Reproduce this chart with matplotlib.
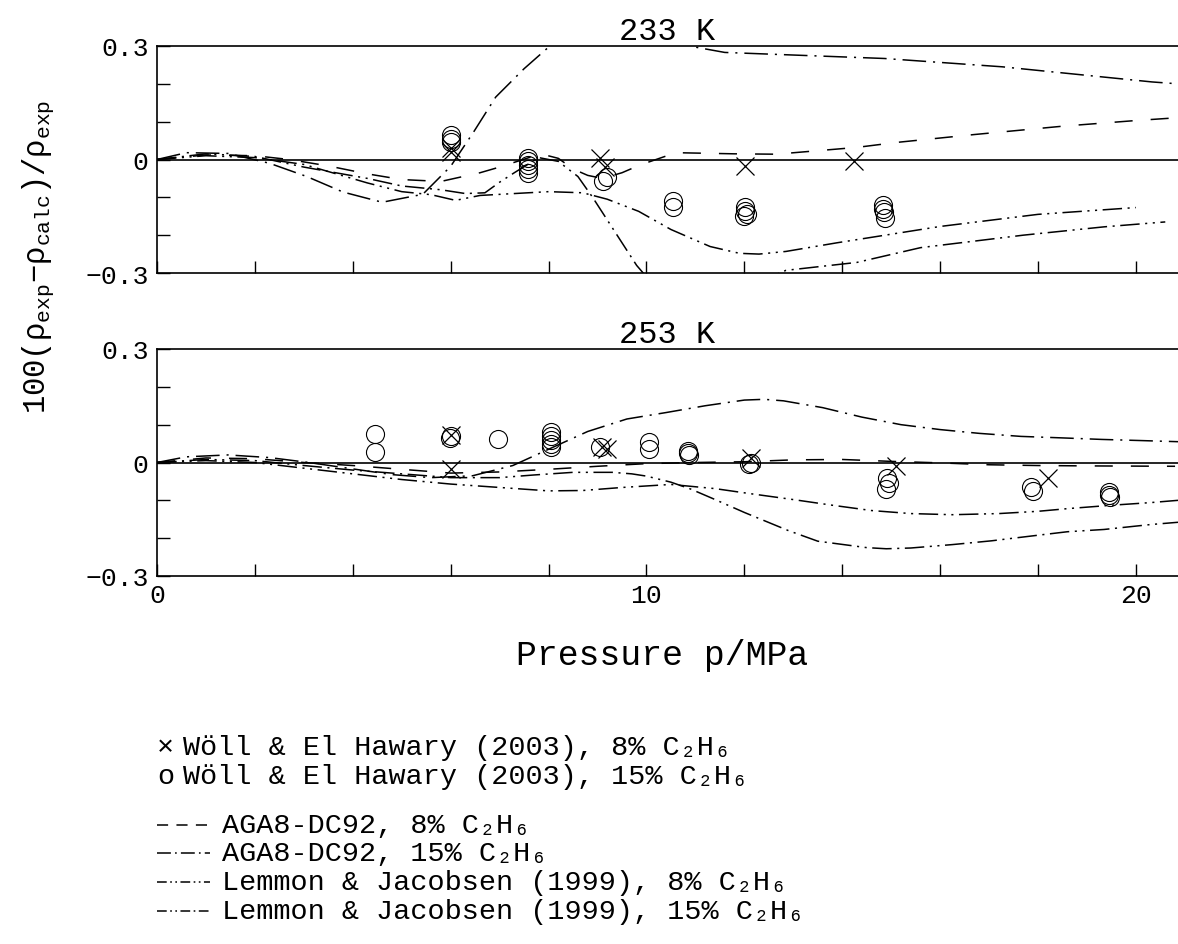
import numpy as np
import matplotlib
matplotlib.use("Agg")
import matplotlib.pyplot as plt
from matplotlib.lines import Line2D

plt.rcParams['font.family'] = ['Liberation Mono', 'DejaVu Sans']
plt.rcParams['mathtext.fontset'] = 'custom'
plt.rcParams['mathtext.rm'] = 'Liberation Mono'
plt.rcParams['mathtext.it'] = 'Liberation Mono'
plt.rcParams['mathtext.bf'] = 'Liberation Mono:bold'
plt.rcParams['lines.scale_dashes'] = False

# ---------------- 233 K ----------------
p233_x8 = [6.0, 6.0, 9.05, 9.15, 12.02, 14.25]
d233_x8 = [0.03, 0.02, 0.005, -0.02, -0.018, -0.003]
p233_o15 = [6.0, 6.0, 6.0, 7.57, 7.57, 7.57, 7.57, 7.57, 9.12, 9.2,
            10.55, 10.55, 12.02, 12.02, 12.05, 12.0, 14.84, 14.84, 14.86, 14.88]
d233_o15 = [0.065, 0.055, 0.045, 0.005, -0.005, -0.015, -0.025, -0.035, -0.058, -0.045,
            -0.11, -0.125, -0.125, -0.135, -0.145, -0.15, -0.12, -0.13, -0.14, -0.155]

p233_aga8 = [0, 1, 2, 2.7, 3.5, 4.3, 5.0, 5.8, 6.6, 7.0, 7.6, 7.9, 8.2, 8.5, 8.8, 9.1,
             9.5, 9.86, 10.6, 11.8, 12.65, 14.3, 15.1, 16.7, 18.5, 20.0, 20.8]
d233_aga8 = [0, 0.012, 0.01, 0.0, -0.017, -0.038, -0.053, -0.058, -0.035, -0.02, 0.005,
             0.013, 0.003, -0.025, -0.042, -0.05, -0.035, -0.015, 0.018, 0.015, 0.014,
             0.032, 0.045, 0.066, 0.088, 0.103, 0.11]
p233_aga15 = [0, 0.6, 1.45, 2.3, 3.06, 3.8, 4.6, 5.43, 6.0, 6.48, 6.92, 7.5, 8.0, 8.5,
              9.5, 10.3, 11.0, 11.6, 14.86, 17.27, 20.33, 20.86]
d233_aga15 = [0, 0.018, 0.016, -0.01, -0.045, -0.086, -0.113, -0.092, -0.018, 0.075,
              0.165, 0.24, 0.297, 0.33, 0.35, 0.33, 0.297, 0.283, 0.267, 0.245, 0.205, 0.2]
p233_lj8 = [0, 1, 2, 3, 4.3, 5.0, 5.6, 6.1, 6.6, 7.3, 8.0, 8.7, 9.2, 9.84, 10.5, 11.3,
            11.9, 12.3, 12.85, 13.9, 16.0, 18.0, 20.0]
d233_lj8 = [0, 0.01, 0.005, -0.013, -0.062, -0.085, -0.093, -0.108, -0.095, -0.09, -0.085,
            -0.088, -0.105, -0.137, -0.185, -0.23, -0.248, -0.25, -0.243, -0.22, -0.177,
            -0.145, -0.127]
p233_lj15 = [0, 1, 2, 3, 4.3, 5.0, 5.8, 6.3, 6.7, 7.0, 7.3, 7.8, 8.2, 8.6, 8.9, 9.2, 9.4,
             9.8, 10.2, 11.0, 12.0, 12.85, 14.3, 15.6, 17.7, 19.35, 20.6]
d233_lj15 = [0, 0.015, 0.008, -0.02, -0.05, -0.07, -0.08, -0.09, -0.088, -0.06, -0.035,
             0.005, -0.005, -0.045, -0.1, -0.16, -0.2, -0.28, -0.34, -0.38, -0.34, -0.293,
             -0.272, -0.233, -0.2, -0.178, -0.165]

# ---------------- 253 K ----------------
p253_x8 = [6.0, 6.0, 9.1, 9.2, 12.14, 15.1, 18.2]
d253_x8 = [0.074, -0.018, 0.04, 0.035, 0.012, -0.01, -0.04]
p253_o15 = [4.45, 4.45, 5.98, 6.0, 6.96, 8.06, 8.06, 8.06, 8.06, 8.06, 9.05, 10.05, 10.05,
            10.84, 10.84, 10.86, 12.14, 12.1, 14.92, 14.95, 14.9, 17.85, 17.9,
            19.45, 19.45, 19.47]
d253_o15 = [0.075, 0.028, 0.066, 0.07, 0.063, 0.08, 0.07, 0.06, 0.05, 0.04, 0.04, 0.055,
            0.035, 0.03, 0.025, 0.02, 0.0, -0.005, -0.04, -0.055, -0.07, -0.065, -0.075,
            -0.078, -0.085, -0.09]

p253_aga8 = [0, 1, 2, 3, 4, 5, 6, 7, 8, 9, 10, 11, 12, 13, 14, 15, 16, 17, 18, 19, 20.8]
d253_aga8 = [0, 0.012, 0.01, 0.0, -0.008, -0.018, -0.028, -0.025, -0.018, -0.01, -0.003,
             0.0, 0.002, 0.007, 0.008, 0.003, -0.001, -0.006, -0.008, -0.009, -0.01]
p253_aga15 = [0, 0.6, 1.45, 2.3, 3.1, 3.9, 4.8, 5.6, 6.45, 7.27, 8.0, 8.8, 9.6, 10.4,
              11.2, 12.0, 12.4, 12.8, 13.6, 14.4, 15.2, 16.0, 16.8, 17.65, 18.5, 19.3,
              20.1, 20.86]
d253_aga15 = [0, 0.015, 0.02, 0.013, 0.0, -0.015, -0.032, -0.04, -0.035, -0.008, 0.035,
              0.082, 0.115, 0.132, 0.15, 0.165, 0.167, 0.163, 0.145, 0.12, 0.1, 0.087,
              0.077, 0.069, 0.065, 0.061, 0.058, 0.055]
p253_lj8 = [0, 1, 2, 3, 4, 5, 6, 7, 8, 8.7, 9.5, 10.0, 10.5, 11.4, 12.1, 13.0, 13.8, 14.6,
            15.4, 16.25, 17.2, 18.0, 18.6, 19.5, 20.3, 20.86]
d253_lj8 = [0, 0.005, 0.0, -0.015, -0.03, -0.045, -0.057, -0.066, -0.075, -0.074, -0.066,
            -0.062, -0.058, -0.069, -0.082, -0.098, -0.113, -0.127, -0.135, -0.138,
            -0.135, -0.129, -0.122, -0.113, -0.106, -0.1]
p253_lj15 = [0, 1, 2, 3, 4, 5, 6, 7, 7.7, 8.5, 9.3, 9.7, 10.0, 10.5, 10.9, 11.35, 12.0,
             12.9, 13.5, 14.5, 14.9, 15.4, 16.25, 17.05, 17.95, 18.6, 19.35, 20.3, 20.86]
d253_lj15 = [0, 0.008, 0.005, -0.008, -0.02, -0.03, -0.04, -0.04, -0.033, -0.026, -0.026,
             -0.03, -0.036, -0.052, -0.07, -0.095, -0.132, -0.18, -0.208, -0.225, -0.228,
             -0.226, -0.217, -0.207, -0.193, -0.183, -0.177, -0.164, -0.158]

x_ticks = [0, 2, 4, 6, 8, 10, 12, 14, 16, 18, 20]
x_ticklabels = ['0', '', '', '', '', '10', '', '', '', '', '20']
y_ticks = [-0.3, -0.2, -0.1, 0.0, 0.1, 0.2, 0.3]
y_ticklabels = ['\u22120.3', '', '', '0', '', '', '0.3']

# line styles (dash lengths in points) for the curves and for the key
LW = 1.1
ST_AGA8 = (0, (13, 13))
ST_AGA15 = (0, (17, 5, 1.5, 5))
ST_LJ8 = (0, (14, 4, 1.5, 4, 1.5, 4))
ST_LJ15 = (0, (14, 4, 1.5, 4, 14, 4, 1.5, 4, 1.5, 4))
KEY_AGA8 = (0, (8, 6))
KEY_AGA15 = (0, (10, 3, 1.2, 3))
KEY_LJ8 = (0, (7, 2.5, 1.2, 2.5, 1.2, 2.5))
KEY_LJ15 = (0, (7, 2.5, 1.2, 2.5, 1.2, 2.5, 7, 2.5, 1.2, 2.5))

fig = plt.figure(figsize=(11.78, 9.45), dpi=100)
W, H = 1178.0, 945.0
ax1 = fig.add_axes([157 / W, 1 - 274 / H, 1021 / W, 227 / H])
ax2 = fig.add_axes([157 / W, 1 - 577 / H, 1021 / W, 227 / H])

panels = [
    (ax1, '233 K', p233_x8, d233_x8, p233_o15, d233_o15,
     (p233_aga8, d233_aga8), (p233_aga15, d233_aga15),
     (p233_lj8, d233_lj8), (p233_lj15, d233_lj15)),
    (ax2, '253 K', p253_x8, d253_x8, p253_o15, d253_o15,
     (p253_aga8, d253_aga8), (p253_aga15, d253_aga15),
     (p253_lj8, d253_lj8), (p253_lj15, d253_lj15)),
]

for ax, title, px, dx, po, do, aga8, aga15, lj8, lj15 in panels:
    ax.set_xlim(0, 20.86)
    ax.set_ylim(-0.3, 0.3)
    ax.axhline(0, color='black', lw=1.2, zorder=1)
    ax.plot(*aga8, color='black', lw=LW, linestyle=ST_AGA8)
    ax.plot(*aga15, color='black', lw=LW, linestyle=ST_AGA15)
    ax.plot(*lj8, color='black', lw=LW, linestyle=ST_LJ8)
    ax.plot(*lj15, color='black', lw=LW, linestyle=ST_LJ15)
    ax.plot(px, dx, linestyle='none', marker='x', ms=13, mew=0.9, color='black')
    ax.plot(po, do, linestyle='none', marker='o', ms=13, mew=0.8, mfc='none',
            mec='black')
    ax.spines['right'].set_visible(False)
    for side in ('left', 'top', 'bottom'):
        ax.spines[side].set_linewidth(1.2)
    ax.set_xticks(x_ticks)
    ax.set_yticks(y_ticks)
    ax.set_yticklabels(y_ticklabels)
    ax.tick_params(direction='in', length=9, width=1.0, labelsize=19,
                   top=False, right=False)
    ax.tick_params(axis='y', pad=6)
    ax.tick_params(axis='x', pad=5)
    ax.set_title(title, fontsize=23, pad=2)

ax1.set_xticklabels([''] * len(x_ticks))
ax2.set_xticklabels(x_ticklabels)

fig.text(662 / W, 1 - 655 / H, 'Pressure p/MPa', fontsize=25, ha='center', va='center')
fig.text(38 / W, 1 - 257 / H,
         '100(\u03c1$_{\\mathrm{exp}}$\u2212\u03c1$_{\\mathrm{calc}}$)/\u03c1$_{\\mathrm{exp}}$',
         rotation=90, fontsize=22, ha='center', va='center')

# key below the panels: symbol/line sample plus label on each row
LEG_FS = 20.5
sub = 'C\u2082H\u2086'
fig.text(157 / W, 1 - 748 / H, '\u00d7', fontsize=LEG_FS, ha='left', va='center')
fig.text(183 / W, 1 - 748 / H, 'W\u00f6ll & El Hawary (2003), 8% ' + sub,
         fontsize=LEG_FS, ha='left', va='center')
fig.text(157 / W, 1 - 777 / H, 'o', fontsize=LEG_FS, ha='left', va='center')
fig.text(183 / W, 1 - 777 / H, 'W\u00f6ll & El Hawary (2003), 15% ' + sub,
         fontsize=LEG_FS, ha='left', va='center')

leg_lines = [
    (826, KEY_AGA8, 'AGA8-DC92, 8% ' + sub),
    (854, KEY_AGA15, 'AGA8-DC92, 15% ' + sub),
    (883, KEY_LJ8, 'Lemmon & Jacobsen (1999), 8% ' + sub),
    (912, KEY_LJ15, 'Lemmon & Jacobsen (1999), 15% ' + sub),
]
for y, st, label in leg_lines:
    fig.add_artist(Line2D([157 / W, 210 / W], [1 - y / H, 1 - y / H],
                          transform=fig.transFigure, color='black', lw=LW,
                          linestyle=st))
    fig.text(222 / W, 1 - y / H, label, fontsize=LEG_FS, ha='left', va='center')

fig.savefig('out.png', dpi=100)
